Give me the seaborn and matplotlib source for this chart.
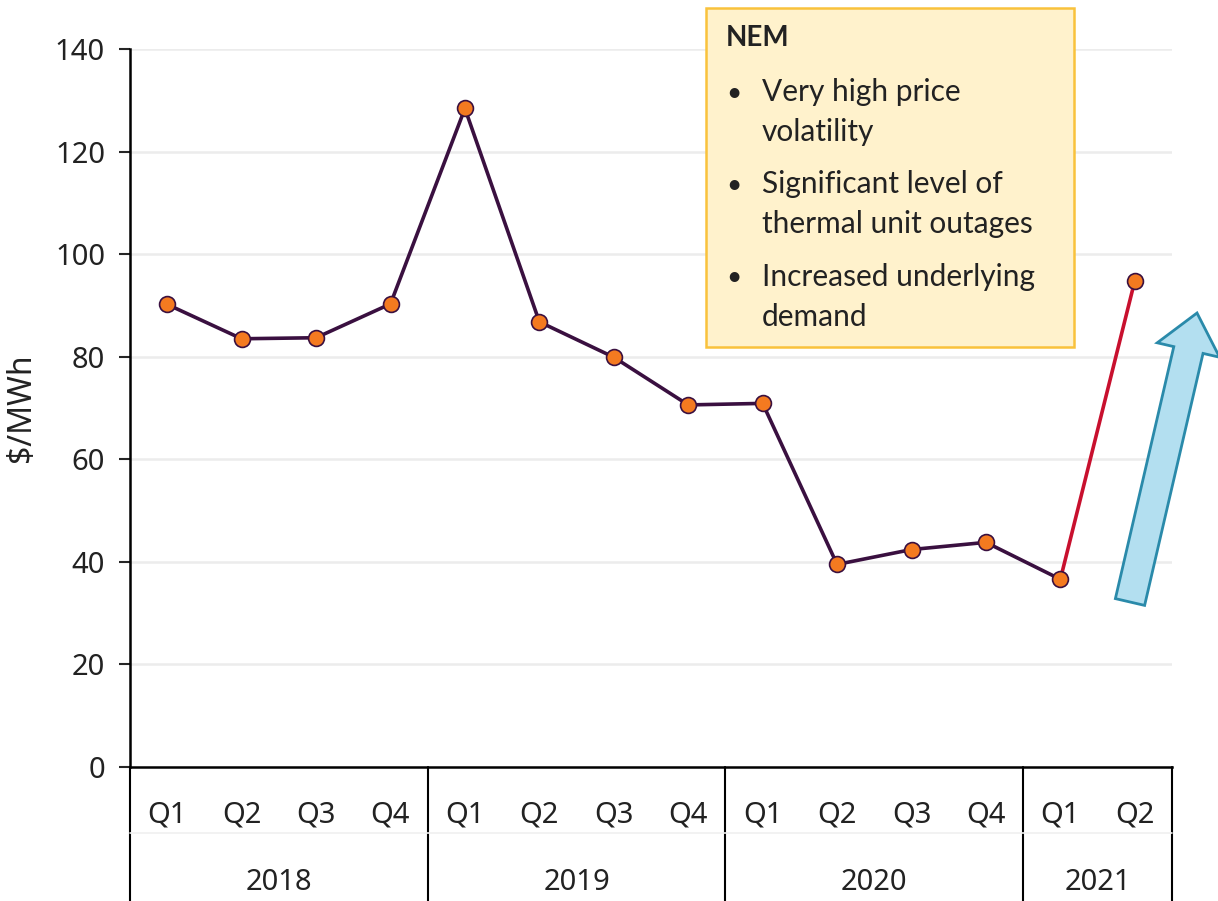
import numpy as np
import pandas as pd
import matplotlib.pyplot as plt
import matplotlib.transforms as mtransforms
from matplotlib.patches import Rectangle, FancyArrow
import seaborn as sns

years = ['2018', '2019', '2020', '2021']
quarters = ['Q1', 'Q2', 'Q3', 'Q4', 'Q1', 'Q2', 'Q3', 'Q4',
            'Q1', 'Q2', 'Q3', 'Q4', 'Q1', 'Q2']
year_of = ['2018'] * 4 + ['2019'] * 4 + ['2020'] * 4 + ['2021'] * 2
prices = [90.2, 83.5, 83.7, 90.3, 128.4, 86.8, 79.9, 70.6,
          70.9, 39.5, 42.4, 43.8, 36.6, 94.8]
bullets = ['Very high price\nvolatility',
           'Significant level of\nthermal unit outages',
           'Increased underlying\ndemand']

df = pd.DataFrame({'pos': np.arange(len(prices)), 'quarter': quarters,
                   'year': year_of, 'price': prices})

sns.set_style('white')
plt.rcParams['font.family'] = ['Noto Sans', 'DejaVu Sans']

fig = plt.figure(figsize=(12.18, 9.01), dpi=100)
ax = fig.add_axes([130 / 1218, 134 / 901, 1042 / 1218, 718 / 901])

line_col = '#3a1040'
txt_col = '#222222'
sns.lineplot(data=df.iloc[:13], x='pos', y='price', color=line_col, lw=2.6, ax=ax, zorder=3)
sns.lineplot(data=df.iloc[12:], x='pos', y='price', color='#c8102e', lw=2.6, ax=ax, zorder=3)
sns.scatterplot(data=df, x='pos', y='price', color='#f47a20', edgecolor=line_col,
                linewidth=1.2, s=130, ax=ax, zorder=4)

ax.set_xlim(-0.5, len(prices) - 0.5)
ax.set_ylim(0, 140)
ax.set_yticks(range(0, 141, 20))
ax.tick_params(axis='y', labelsize=21, length=8, width=1.5, direction='out', left=True,
               pad=10, labelcolor=txt_col)
ax.set_xticks([])
ax.set_xlabel('')
ax.set_ylabel('$/MWh', fontsize=23, labelpad=12, color=txt_col)
for t in range(20, 141, 20):
    ax.axhline(t, color='#ececec', lw=1.8, zorder=0)

for side in ['top', 'right']:
    ax.spines[side].set_visible(False)
for side in ['left', 'bottom']:
    ax.spines[side].set_color('black')
    ax.spines[side].set_linewidth(1.8)

# multi-level category axis
tr = mtransforms.blended_transform_factory(ax.transData, ax.transAxes)
low = -134 / 718
for i, q in enumerate(quarters):
    ax.text(i, -48 / 718, q, transform=tr, ha='center', va='center', fontsize=21, color=txt_col)
for y in years:
    idx = [i for i, v in enumerate(year_of) if v == y]
    ax.text(np.mean(idx), -115 / 718, y, transform=tr, ha='center', va='center',
            fontsize=21, color=txt_col)
bounds = [-0.5, 3.5, 7.5, 11.5, 13.5]
for b in bounds:
    ax.plot([b, b], [0, low], transform=tr, color='black', lw=1.5, clip_on=False)
ax.plot([-0.5, 13.5], [-66 / 718, -66 / 718], transform=tr, color='#f0f0f0', lw=1.2, clip_on=False)

# annotation box
bx0, bx1 = (706 - 130) / 1042, (1074 - 130) / 1042
by0, by1 = (767 - 347) / 718, (767 - 8) / 718
ax.add_patch(Rectangle((bx0, by0), bx1 - bx0, by1 - by0, transform=ax.transAxes,
                       facecolor='#fff2cc', edgecolor='#f9c23c', lw=1.8, clip_on=False, zorder=5))
ax.text((726 - 130) / 1042, (767 - 38) / 718, 'NEM', transform=ax.transAxes, fontsize=20,
        fontweight='bold', color=txt_col, va='center', ha='left', zorder=6, family='Lato')
first_line = [93, 185, 278]
for yy, b in zip(first_line, bullets):
    ax.text((726 - 130) / 1042, (767 - yy) / 718, '\u2022', transform=ax.transAxes, fontsize=19,
            color=txt_col, va='center', ha='left', zorder=6, family='Lato')
    ax.text((762 - 130) / 1042, (767 - yy - 19) / 718, b, transform=ax.transAxes, fontsize=21.5,
            color=txt_col, va='center', ha='left', zorder=6, family='Lato', linespacing=1.55)

# upward arrow
arr = FancyArrow(11.30, 9.01 - 6.02, 0.67, 2.89, width=0.30, head_width=0.64, head_length=0.38,
                 length_includes_head=True, transform=fig.dpi_scale_trans,
                 facecolor='#b3dff0', edgecolor='#2a8aaa', lw=2)
fig.patches.append(arr)

fig.savefig('out.png', dpi=100)
